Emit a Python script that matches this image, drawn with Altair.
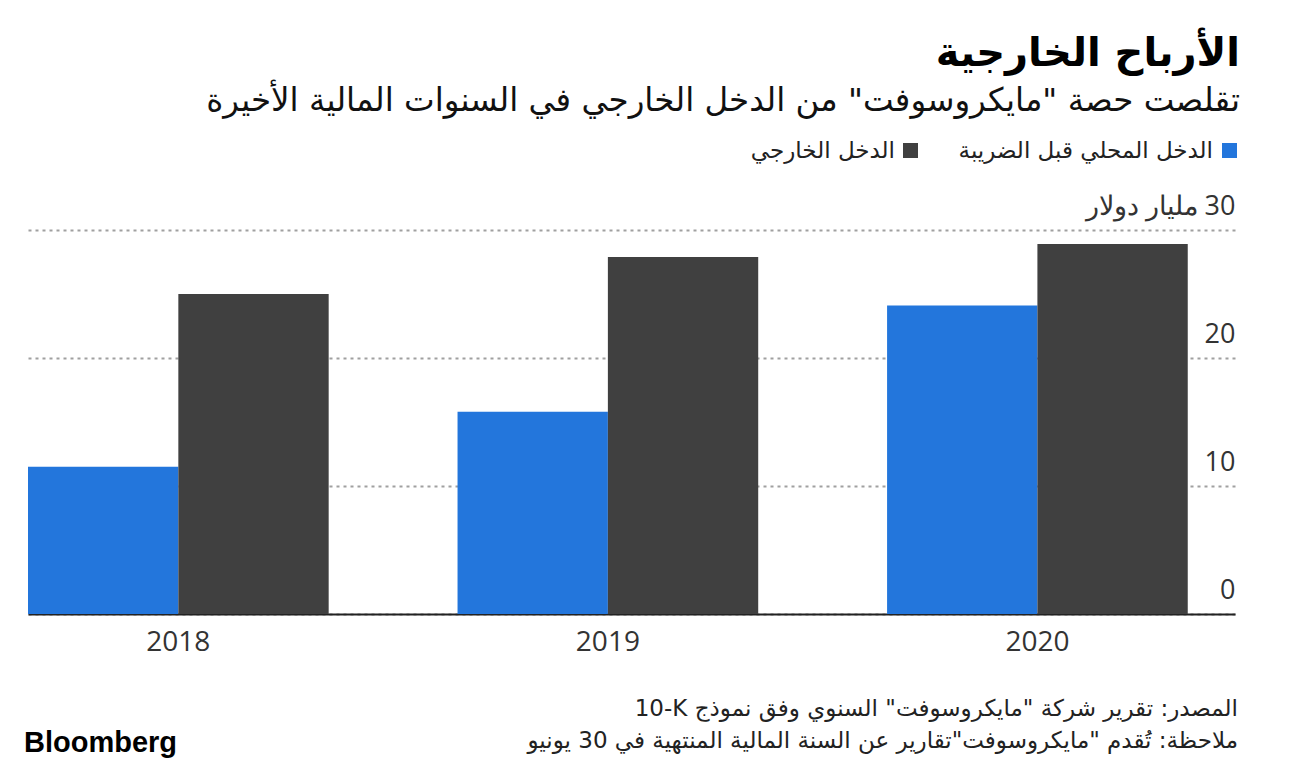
import altair as alt
import pandas as pd

years = ["2018", "2019", "2020"]
series_names = ["الدخل المحلي قبل الضريبة", "الدخل الخارجي"]
domestic = [11.5, 15.8, 24.1]
foreign = [25.0, 27.9, 28.9]
colors = ["#2376DC", "#404040"]

title_text = "الأرباح الخارجية"
subtitle_text = 'تقلصت حصة "مايكروسوفت" من الدخل الخارجي في السنوات المالية الأخيرة'
y_unit_label = "مليار دولار"
source_text = 'المصدر: تقرير شركة "مايكروسوفت" السنوي وفق نموذج \u202a10-K\u202c'
note_text = 'ملاحظة: تُقدم "مايكروسوفت"تقارير عن السنة المالية المنتهية في 30 يونيو'
brand_text = "Bloomberg"

RLE, PDF = "\u202b", "\u202c"


def rtl(s):
    return RLE + s + PDF


rows = []
for i, y in enumerate(years):
    rows.append({"year": y, "series": series_names[0], "value": domestic[i]})
    rows.append({"year": y, "series": series_names[1], "value": foreign[i]})
df = pd.DataFrame(rows)

W, H = 1207, 384
AR_FONT = "DejaVu Sans"

bars = alt.Chart(df).mark_bar().encode(
    x=alt.X(
        "year:N",
        sort=years,
        scale=alt.Scale(paddingInner=0.3, paddingOuter=0.055, align=0),
        axis=alt.Axis(
            title=None, labelAngle=0, ticks=False, grid=False, domain=True,
            domainColor="#222222", domainWidth=2, labelFontSize=28,
            labelColor="#333333", labelPadding=14, labelFont="Open Sans",
        ),
    ),
    xOffset=alt.XOffset("series:N", sort=series_names,
                        scale=alt.Scale(paddingInner=0, paddingOuter=0)),
    y=alt.Y(
        "value:Q",
        scale=alt.Scale(domain=[0, 30], nice=False),
        axis=alt.Axis(
            title=None, orient="right", values=[0, 10, 20, 30], grid=True,
            gridDash=[3, 4], gridColor="#a0a0a0", gridWidth=2,
            domain=False, ticks=False, tickSize=0, labelAlign="right",
            labelPadding=0, labelBaseline="alphabetic", labelOffset=-16,
            labelFontSize=27, labelColor="#333333", labelFont="Open Sans",
            labelExpr="datum.value == 30 ? '" + y_unit_label + "\u200e 30' : datum.label",
        ),
    ),
    color=alt.Color("series:N", sort=series_names,
                    scale=alt.Scale(domain=series_names, range=colors), legend=None),
)


def text_layer(txt, x, y, size, weight="normal", align="right", font=AR_FONT, color="#111111"):
    return alt.Chart(pd.DataFrame({"t": [txt]})).mark_text(
        align=align, baseline="alphabetic", fontSize=size, fontWeight=weight,
        font=font, color=color,
    ).encode(x=alt.value(x), y=alt.value(y), text="t:N")


def square_layer(name, color, x, y):
    return alt.Chart(pd.DataFrame({"s": [name]})).mark_square(
        size=225, opacity=1, color=color
    ).encode(x=alt.value(x), y=alt.value(y), detail="s:N")


title = text_layer(rtl(title_text), 1212, -164, 40, weight="bold", color="#000000")
subtitle = text_layer(rtl(subtitle_text), 1212, -119, 32.5, color="#111111")

sq1 = square_layer(series_names[0], colors[0], 1201.5, -79.5)
sq2 = square_layer(series_names[1], colors[1], 882.5, -79.5)
leg1 = text_layer(rtl(series_names[0]), 1185, -72, 23, color="#222222")
leg2 = text_layer(rtl(series_names[1]), 867, -72, 23, color="#222222")

src = text_layer(rtl(source_text), 1210, 486, 23, color="#222222")
note = text_layer(rtl(note_text), 1210, 518, 23, color="#222222")
brand = text_layer(brand_text, -4, 522, 29, weight="bold", align="left",
                   font="Liberation Sans", color="#000000")

chart = alt.layer(
    bars, title, subtitle, sq1, sq2, leg1, leg2, src, note, brand
).resolve_scale(x="independent", color="independent").properties(
    width=W, height=H,
    autosize=alt.AutoSizeParams(type="none"),
    padding={"left": 20, "top": 222, "right": 40, "bottom": 150},
).configure_view(stroke=None)

chart.save("out.html", embed_options={"renderer": "svg", "actions": False})
